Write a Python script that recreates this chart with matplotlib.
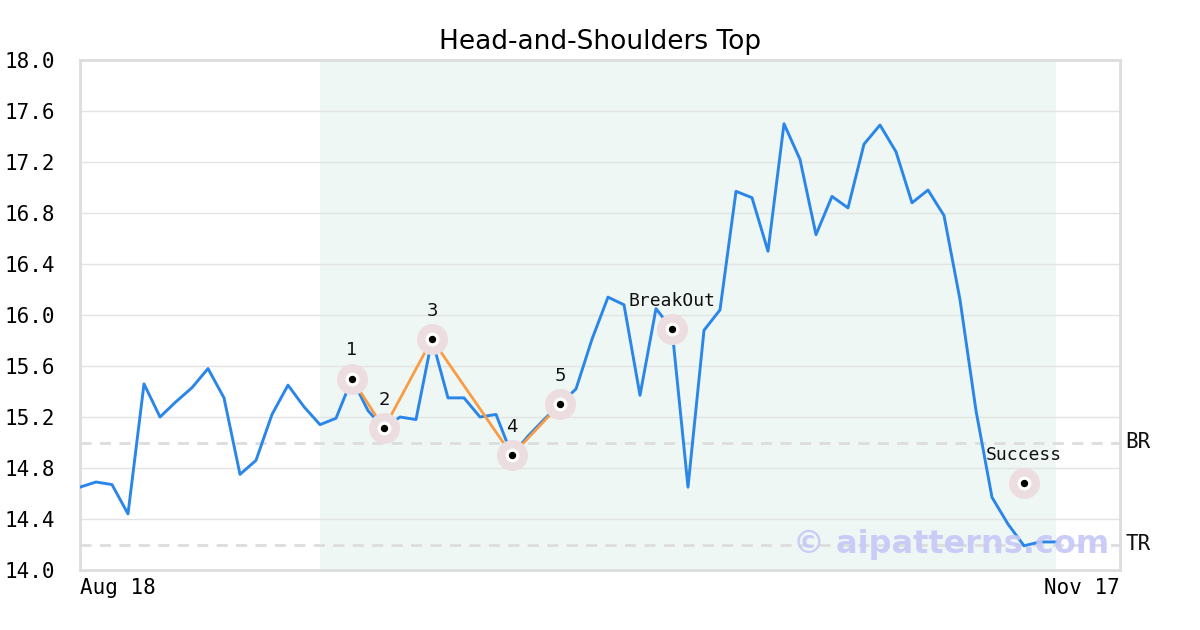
import matplotlib
matplotlib.use("Agg")
import matplotlib.pyplot as plt

# ---- data ----
prices = [14.65, 14.69, 14.67, 14.44, 15.46, 15.20, 15.32, 15.43, 15.58, 15.35,
          14.75, 14.86, 15.22, 15.45, 15.28, 15.14, 15.19, 15.50, 15.25, 15.11,
          15.20, 15.18, 15.81, 15.35, 15.35, 15.20, 15.22, 14.90, 15.05, 15.18,
          15.30, 15.42, 15.81, 16.14, 16.08, 15.37, 16.05, 15.89, 14.65, 15.88,
          16.04, 16.97, 16.92, 16.50, 17.50, 17.22, 16.63, 16.93, 16.84, 17.34,
          17.49, 17.28, 16.88, 16.98, 16.78, 16.12, 15.25, 14.57, 14.36, 14.19,
          14.22, 14.22]
pattern_idx = [17, 19, 22, 27, 30]
pattern_vals = [15.50, 15.11, 15.81, 14.90, 15.30]
pattern_labels = ["1", "2", "3", "4", "5"]
breakout_idx, breakout_val = 37, 15.89
success_idx, success_val = 59, 14.68
shade_start, shade_end = 15, 61
br_level, tr_level = 15.0, 14.2
x_max = 65
y_ticks = [14.0, 14.4, 14.8, 15.2, 15.6, 16.0, 16.4, 16.8, 17.2, 17.6, 18.0]
x_tick_labels = ["Aug 18", "Nov 17"]
title = "Head-and-Shoulders Top"

# ---- figure ----
fig = plt.figure(figsize=(12, 6.3), dpi=100)
ax = fig.add_axes([80/1200, 60/630, 1040/1200, 510/630])
mono = "DejaVu Sans Mono"

ax.axvspan(shade_start, shade_end, color="#eef7f3", zorder=0, lw=0)
ax.set_xlim(0, x_max)
ax.set_ylim(14.0, 18.0)
ax.set_yticks(y_ticks)
ax.set_yticklabels([f"{v:.1f}" for v in y_ticks], fontfamily=mono, fontsize=15)
ax.yaxis.grid(True, color="#e3e3e3", lw=1, zorder=0.5)
ax.set_axisbelow(True)
ax.tick_params(axis="y", length=0, pad=18)
ax.tick_params(axis="x", length=0, pad=6)
ax.set_xticks([0, x_max])
ax.set_xticklabels(x_tick_labels, fontfamily=mono, fontsize=15)
xl = ax.get_xticklabels()
xl[0].set_ha("left")
xl[1].set_ha("right")
for s in ax.spines.values():
    s.set_color("#dddddd")
    s.set_linewidth(2)

for lvl, name in [(br_level, "BR"), (tr_level, "TR")]:
    ax.axhline(lvl, color="#dddddd", lw=2, ls=(0, (4, 3)), zorder=1)
    ax.text(1.005, lvl, name, transform=ax.get_yaxis_transform(), ha="left",
            va="center", fontsize=15, fontfamily=mono, color="#111111")

xs = list(range(len(prices)))
ax.plot(xs, prices, color="#2a86e8", lw=2.1, zorder=3)
ax.plot(pattern_idx, pattern_vals, color="#f89c45", lw=2.0, zorder=4)

def marker(x, y):
    ax.scatter([x], [y], s=500, color="#ecdde0", zorder=5, lw=0)
    ax.scatter([x], [y], s=100, color="white", zorder=6, lw=0)
    ax.scatter([x], [y], s=28, color="black", zorder=7, lw=0)

for i, v, lab in zip(pattern_idx, pattern_vals, pattern_labels):
    marker(i, v)
    ax.annotate(lab, (i, v), xytext=(0, 14), textcoords="offset points",
                ha="center", va="bottom", fontsize=13, color="#111111")

marker(breakout_idx, breakout_val)
ax.annotate("BreakOut", (breakout_idx, breakout_val), xytext=(0, 14),
            textcoords="offset points", ha="center", va="bottom",
            fontsize=13, fontfamily=mono, color="#111111")
marker(success_idx, success_val)
ax.annotate("Success", (success_idx, success_val), xytext=(0, 14),
            textcoords="offset points", ha="center", va="bottom",
            fontsize=13, fontfamily=mono, color="#111111")

ax.text(0.99, 0.05, "© aipatterns.com", transform=ax.transAxes, ha="right",
        va="center", fontsize=23, fontweight="bold", color="#c6c8f8",
        alpha=0.9, zorder=8)

ax.set_title(title, fontsize=19, pad=8)

fig.savefig("out.png", dpi=100)
